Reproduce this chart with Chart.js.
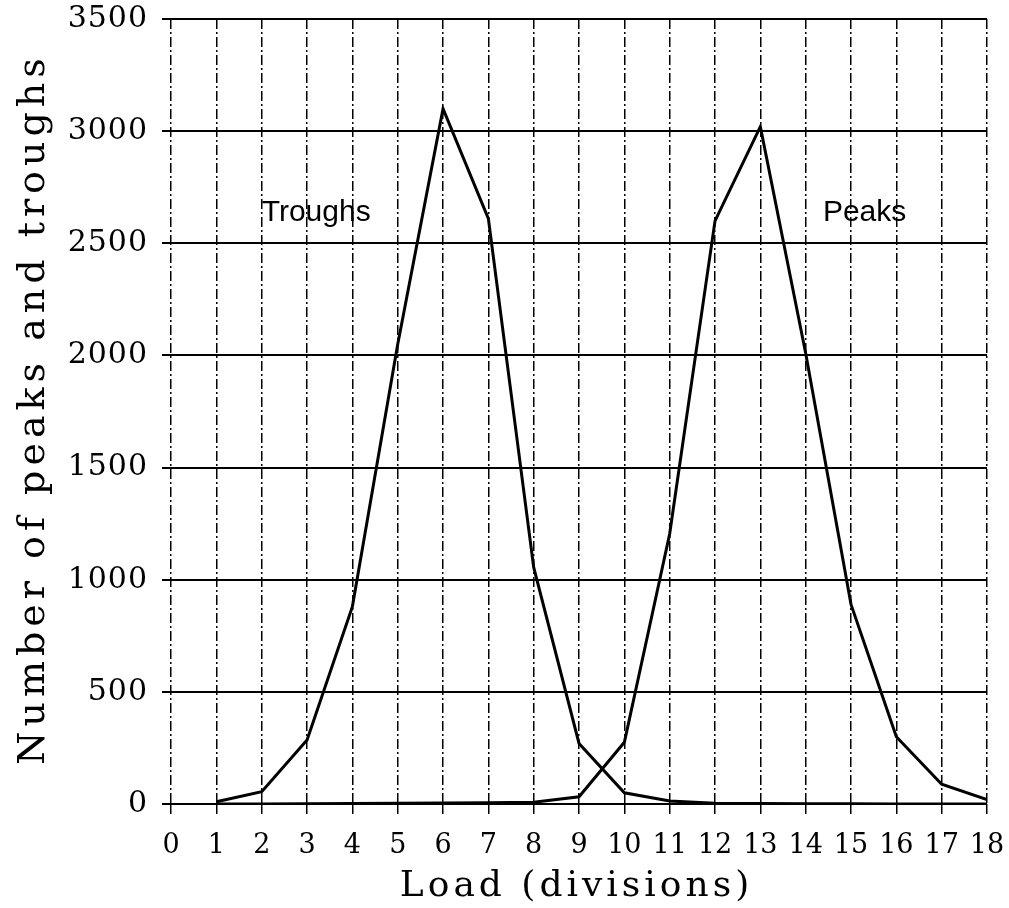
<!DOCTYPE html>
<html>
<head>
<meta charset="utf-8">
<script src="https://cdn.jsdelivr.net/npm/chart.js@4.4.1/dist/chart.umd.min.js"></script>
<style>
  html, body { margin: 0; padding: 0; background: #fff; }
  #wrap { width: 1009px; height: 908px; }
</style>
</head>
<body>
<div id="wrap"><canvas id="chart"></canvas></div>
<script>
const LOADS = [1, 2, 3, 4, 5, 6, 7, 8, 9, 10, 11, 12, 13, 14, 15, 16, 17, 18];
const TROUGHS = [10, 55, 285, 880, 2050, 3100, 2610, 1055, 270, 50, 13, 3, 2, 1, 1, 0, 0, 0];
const PEAKS = [0, 0, 1, 2, 3, 4, 6, 8, 32, 275, 1205, 2600, 3020, 2010, 890, 300, 88, 20];

const LOAD_TICKS = [0, 1, 2, 3, 4, 5, 6, 7, 8, 9, 10, 11, 12, 13, 14, 15, 16, 17, 18];
const COUNT_TICKS = [0, 500, 1000, 1500, 2000, 2500, 3000, 3500];

const CURVE_LABELS = ["Troughs", "Peaks"];
const CURVE_LABEL_LOADS = [2.0, 14.38];
const CURVE_LABEL_COUNTS = [2600, 2600];

const GRID_DASH = [10, 3, 2, 3];
const SERIF = "'DejaVu Serif'";

// the scanned plot uses widely spaced serif type, canvas needs letterSpacing for it
const SPACING_BY_SIZE = { 38: 5, 36: 4, 30: 1 };

const letterSpacingPlugin = {
  id: "letterSpacing",
  beforeDraw(chart) {
    const ctx = chart.ctx;
    if (ctx.spacingPatched) return;
    ctx.spacingPatched = true;
    const fillText = ctx.fillText.bind(ctx);
    ctx.fillText = (text, x, y, maxWidth) => {
      const match = ctx.font.match(/(\d+)px/);
      const size = match ? Number(match[1]) : 0;
      const spacing = ctx.font.includes("Serif") ? SPACING_BY_SIZE[size] || 0 : 0;
      ctx.letterSpacing = `${spacing}px`;
      let drawX = x;
      if (ctx.textAlign === "center") drawX += spacing / 2;
      if (ctx.textAlign === "right") drawX += spacing;
      if (maxWidth === undefined) fillText(text, drawX, y);
      else fillText(text, drawX, y, maxWidth);
    };
  },
};

const curveLabelPlugin = {
  id: "curveLabels",
  afterDatasetsDraw(chart) {
    const { ctx, scales } = chart;
    ctx.save();
    ctx.font = "30px 'Liberation Sans'";
    ctx.fillStyle = "#000";
    ctx.textAlign = "left";
    ctx.textBaseline = "alphabetic";
    CURVE_LABELS.forEach((text, i) => {
      ctx.fillText(
        text,
        scales.x.getPixelForValue(CURVE_LABEL_LOADS[i]),
        scales.y.getPixelForValue(CURVE_LABEL_COUNTS[i]),
      );
    });
    ctx.restore();
  },
};

function toPoints(values) {
  return LOADS.map((load, i) => ({ x: load, y: values[i] }));
}

function curve(label, values) {
  return {
    label,
    data: toPoints(values),
    borderColor: "#000",
    borderWidth: 3,
    pointRadius: 0,
    tension: 0,
    fill: false,
  };
}

// keep the plot box where the scan has it, labels may hang over the edges
function clearPadding(scale) {
  scale.paddingTop = 0;
  scale.paddingBottom = 0;
  scale.paddingLeft = 0;
  scale.paddingRight = 0;
}

new Chart(document.getElementById("chart"), {
  type: "line",
  data: {
    datasets: [curve("Troughs", TROUGHS), curve("Peaks", PEAKS)],
  },
  options: {
    responsive: true,
    maintainAspectRatio: false,
    animation: false,
    layout: { padding: { top: 19, right: 22, left: 0, bottom: 0 } },
    plugins: {
      legend: { display: false },
      tooltip: { enabled: false },
    },
    scales: {
      x: {
        type: "linear",
        min: -0.2,
        max: 18,
        afterBuildTicks(scale) {
          scale.ticks = LOAD_TICKS.map((value) => ({ value }));
        },
        afterFit(scale) {
          scale.height = 104;
          clearPadding(scale);
        },
        ticks: {
          autoSkip: false,
          maxRotation: 0,
          color: "#000",
          padding: 14,
          font: { family: SERIF, size: 27 },
        },
        grid: {
          color: "#000",
          lineWidth: 1.5,
          tickLength: 12,
          tickBorderDash: GRID_DASH,
        },
        border: { display: false, dash: GRID_DASH },
        title: {
          display: true,
          text: "Load (divisions)",
          color: "#000",
          font: { family: SERIF, size: 36 },
          padding: { top: 0, bottom: 0 },
        },
      },
      y: {
        min: 0,
        max: 3500,
        afterBuildTicks(scale) {
          scale.ticks = COUNT_TICKS.map((value) => ({ value }));
        },
        afterFit(scale) {
          scale.width = 162;
          clearPadding(scale);
        },
        ticks: {
          color: "#000",
          padding: 15,
          font: { family: SERIF, size: 30 },
          callback: (value) => String(value),
        },
        grid: {
          color: "#000",
          lineWidth: 2,
          drawTicks: false,
        },
        border: { display: false },
        title: {
          display: true,
          text: "Number of peaks and troughs",
          color: "#000",
          font: { family: SERIF, size: 38 },
          padding: { top: 11, bottom: 0 },
        },
      },
    },
  },
  plugins: [letterSpacingPlugin, curveLabelPlugin],
});
</script>
</body>
</html>
